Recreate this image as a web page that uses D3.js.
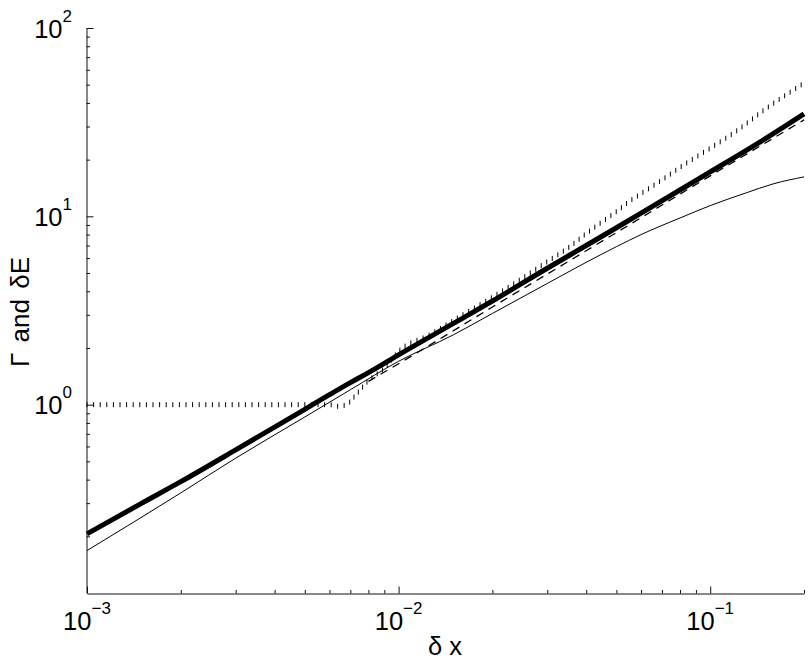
<!DOCTYPE html>
<html>
<head>
<meta charset="utf-8">
<script src="https://cdn.jsdelivr.net/npm/d3@7"></script>
<style>
  html, body { margin: 0; padding: 0; background: #fff; }
  svg { display: block; }
  text { font-family: "Liberation Sans", Arial, Helvetica, sans-serif; fill: #000; }
</style>
</head>
<body>
<svg id="chart" width="810" height="665"></svg>
<script>
// ---- data ----
const thickX = [0.001, 0.0015, 0.002, 0.003, 0.004, 0.005, 0.006, 0.007, 0.008, 0.01, 0.015, 0.02, 0.03, 0.04, 0.05, 0.06, 0.08, 0.1, 0.15, 0.2];
const thickY = [0.206, 0.30, 0.39, 0.575, 0.76, 0.945, 1.13, 1.31, 1.48, 1.84, 2.7, 3.55, 5.3, 7.0, 8.7, 10.4, 13.8, 17.2, 25.8, 35];

const thinX = [0.001, 0.002, 0.003, 0.005, 0.007, 0.01, 0.015, 0.02, 0.03, 0.04, 0.05, 0.06, 0.08, 0.1, 0.13, 0.16, 0.2];
const thinY = [0.168, 0.34, 0.52, 0.86, 1.2, 1.7, 2.35, 3.05, 4.4, 5.7, 6.9, 8.0, 9.8, 11.4, 13.3, 14.9, 16.2];

const dashedX = [0.008, 0.01, 0.02, 0.05, 0.1, 0.2];
const dashedY = [1.33, 1.65, 3.3, 8.2, 16.4, 32.5];

const dottedX = [0.001, 0.002, 0.004, 0.006, 0.0064, 0.0068, 0.0072, 0.0076, 0.008, 0.0085, 0.009, 0.01, 0.0126, 0.015, 0.02, 0.025, 0.03, 0.035, 0.04, 0.045, 0.05, 0.055, 0.06, 0.07, 0.08, 0.1, 0.12, 0.15, 0.2];
const dottedY = [1.0, 1.0, 1.0, 1.0, 0.98, 1.0, 1.1, 1.22, 1.34, 1.45, 1.56, 1.92, 2.35, 2.8, 3.72, 4.7, 5.75, 6.8, 8.1, 9.35, 10.6, 12.0, 13.2, 15.6, 18.2, 23, 28, 37, 51];

const xMajorTicks = [0.001, 0.01, 0.1];
const xMajorExp = ["\u22123", "\u22122", "\u22121"];
const xMinorTicks = [0.002,0.003,0.004,0.005,0.006,0.007,0.008,0.009,0.02,0.03,0.04,0.05,0.06,0.07,0.08,0.09,0.2];
const yMajorTicks = [1, 10, 100];
const yMajorExp = ["0", "1", "2"];
const yMinorTicks = [0.2,0.3,0.4,0.5,0.6,0.7,0.8,0.9,2,3,4,5,6,7,8,9,20,30,40,50,60,70,80,90];

const xLabel = "\u03b4 x";
const yLabel = "\u0393 and \u03b4E";

// ---- drawing ----
const svg = d3.select("#chart");
svg.append("rect").attr("width", 810).attr("height", 665).attr("fill", "#fff");

const x = d3.scaleLog().domain([0.001, 0.2]).range([87, 804]);
const y = d3.scaleLog().domain([0.1, 100]).range([593, 28]);

const zip = (xs, ys) => xs.map((v, i) => [v, ys[i]]);
const line = d3.line().x(d => x(d[0])).y(d => y(d[1])).curve(d3.curveMonotoneX);

// axes (ticks point inward)
const gx = svg.append("g").attr("transform", "translate(0,593.5)");
gx.call(d3.axisBottom(x).tickValues(xMinorTicks).tickSize(-3.5).tickSizeOuter(0).tickFormat(""));
const gx2 = svg.append("g").attr("transform", "translate(0,593.5)");
gx2.call(d3.axisBottom(x).tickValues(xMajorTicks).tickSize(-7).tickSizeOuter(0).tickFormat(""));
gx2.select(".domain").remove();

const gy = svg.append("g").attr("transform", "translate(86.5,0)");
gy.call(d3.axisLeft(y).tickValues(yMinorTicks).tickSize(-3.5).tickSizeOuter(0).tickFormat(""));
const gy2 = svg.append("g").attr("transform", "translate(86.5,0)");
gy2.call(d3.axisLeft(y).tickValues(yMajorTicks).tickSize(-7).tickSizeOuter(0).tickFormat(""));
gy2.select(".domain").remove();

svg.selectAll(".domain").attr("stroke", "#111").attr("stroke-width", 1);
svg.selectAll(".tick line").attr("stroke", "#111").attr("stroke-width", 1);

// tick labels
xMajorTicks.forEach((v, i) => {
  const t = svg.append("text").attr("x", x(v)).attr("y", 630).attr("text-anchor", "middle").attr("font-size", 25.5);
  t.append("tspan").text("10");
  t.append("tspan").attr("dy", -16).attr("font-size", 17).text(xMajorExp[i]);
});
yMajorTicks.forEach((v, i) => {
  const t = svg.append("text").attr("x", 72).attr("y", y(v) + 9.5).attr("text-anchor", "end").attr("font-size", 25.5);
  t.append("tspan").text("10");
  t.append("tspan").attr("dy", -16).attr("font-size", 17).text(yMajorExp[i]);
});

// axis titles
svg.append("text").attr("x", 445).attr("y", 655).attr("text-anchor", "middle").attr("font-size", 25.5).text(xLabel);
svg.append("text").attr("transform", "translate(29,312) rotate(-90)").attr("text-anchor", "middle").attr("font-size", 26).attr("word-spacing", 3).text(yLabel);

// series
svg.append("path").datum(zip(thinX, thinY)).attr("d", line)
  .attr("fill", "none").attr("stroke", "#000").attr("stroke-width", 1);

svg.append("path").datum(zip(dashedX, dashedY)).attr("d", line)
  .attr("fill", "none").attr("stroke", "#000").attr("stroke-width", 1.3).attr("stroke-dasharray", "8,6");

svg.append("path").datum(zip(thickX, thickY)).attr("d", line)
  .attr("fill", "none").attr("stroke", "#000").attr("stroke-width", 5).attr("stroke-linejoin", "round");

// dotted series: small vertical marks placed along the path
const dotPath = svg.append("path").datum(zip(dottedX, dottedY)).attr("d", line)
  .attr("fill", "none").attr("stroke", "none");
const node = dotPath.node();
const L = node.getTotalLength();
const marks = [];
for (let s = 0; s <= L; s += 6.6) marks.push(node.getPointAtLength(s));
svg.append("g").selectAll("line").data(marks).join("line")
  .attr("x1", d => d.x).attr("x2", d => d.x)
  .attr("y1", d => d.y - 2.5).attr("y2", d => d.y + 2.5)
  .attr("stroke", "#000").attr("stroke-width", 1);
</script>
</body>
</html>
